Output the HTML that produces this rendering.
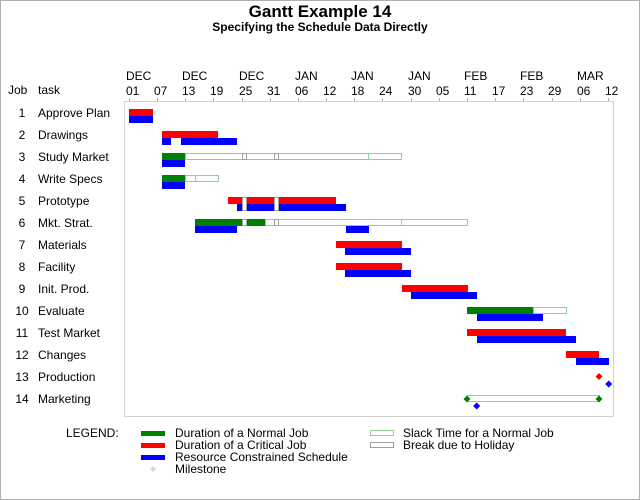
<!DOCTYPE html>
<html><head><style>body{margin:0;background:#fff}svg{display:block}text{font-family:"Liberation Sans",Arial,sans-serif;fill:#000}</style></head><body>
<svg width="640" height="500" xmlns="http://www.w3.org/2000/svg">
<rect x="0.5" y="0.5" width="639" height="499" fill="#fff" stroke="#b0b0b0"/>
<text x="320" y="17" font-size="17" font-weight="bold" text-anchor="middle">Gantt Example 14</text>
<text x="320" y="31" font-size="12" font-weight="bold" text-anchor="middle">Specifying the Schedule Data Directly</text>
<rect x="124.5" y="101.5" width="489" height="315" fill="none" stroke="#d0d0d0"/>
<g font-size="12">
<text x="8" y="94">Job</text><text x="38" y="94">task</text>
<g id="ticks"></g>
</g>
<g font-size="12" text-anchor="start">
<text x="126" y="80">DEC</text><text x="182" y="80">DEC</text><text x="239" y="80">DEC</text><text x="295" y="80">JAN</text><text x="351" y="80">JAN</text><text x="408" y="80">JAN</text><text x="464" y="80">FEB</text><text x="520" y="80">FEB</text><text x="577" y="80">MAR</text>
<text x="126" y="95">01</text><text x="154" y="95">07</text><text x="182" y="95">13</text><text x="210" y="95">19</text><text x="239" y="95">25</text><text x="267" y="95">31</text><text x="295" y="95">06</text><text x="323" y="95">12</text><text x="351" y="95">18</text><text x="379" y="95">24</text><text x="408" y="95">30</text><text x="436" y="95">05</text><text x="464" y="95">11</text><text x="492" y="95">17</text><text x="520" y="95">23</text><text x="548" y="95">29</text><text x="577" y="95">06</text><text x="605" y="95">12</text>
</g>
<g stroke="#b0b0b0"><path d="M129.5 98v3M157.5 98v3M185.5 98v3M213.5 98v3M242.5 98v3M270.5 98v3M298.5 98v3M326.5 98v3M354.5 98v3M382.5 98v3M411.5 98v3M439.5 98v3M467.5 98v3M495.5 98v3M523.5 98v3M552.5 98v3M580.5 98v3M608.5 98v3"/></g>
<g font-size="12">
<g text-anchor="middle">
<text x="22" y="117">1</text><text x="22" y="139">2</text><text x="22" y="161">3</text><text x="22" y="183">4</text><text x="22" y="205">5</text><text x="22" y="227">6</text><text x="22" y="249">7</text><text x="22" y="271">8</text><text x="22" y="293">9</text><text x="22" y="315">10</text><text x="22" y="337">11</text><text x="22" y="359">12</text><text x="22" y="381">13</text><text x="22" y="403">14</text>
</g>
<text x="38" y="117">Approve Plan</text><text x="38" y="139">Drawings</text><text x="38" y="161">Study Market</text><text x="38" y="183">Write Specs</text><text x="38" y="205">Prototype</text><text x="38" y="227">Mkt. Strat.</text><text x="38" y="249">Materials</text><text x="38" y="271">Facility</text><text x="38" y="293">Init. Prod.</text><text x="38" y="315">Evaluate</text><text x="38" y="337">Test Market</text><text x="38" y="359">Changes</text><text x="38" y="381">Production</text><text x="38" y="403">Marketing</text>
</g>
<!-- slack outlines -->
<g fill="none" stroke="#90d090">
<rect x="185.5" y="153.5" width="216" height="6"/><path d="M368.5 153v7"/>
<rect x="185.5" y="175.5" width="33" height="6"/><path d="M195.5 175v7"/>
<rect x="265.5" y="219.5" width="202" height="6"/><path d="M401.5 219v7"/>
<rect x="533.5" y="307.5" width="33" height="6"/>
<rect x="467.5" y="395.5" width="132" height="6"/>
</g>
<!-- bars -->
<g fill="#ff0000">
<rect x="129" y="109" width="24" height="7"/>
<rect x="162" y="131" width="56" height="7"/>
<rect x="228" y="197" width="14" height="7"/><rect x="247" y="197" width="28" height="7"/><rect x="279" y="197" width="57" height="7"/>
<rect x="336" y="241" width="66" height="7"/>
<rect x="336" y="263" width="66" height="7"/>
<rect x="402" y="285" width="66" height="7"/>
<rect x="467" y="329" width="99" height="7"/>
<rect x="566" y="351" width="33" height="7"/>
</g>
<g fill="#0000ff">
<rect x="129" y="116" width="24" height="7"/>
<rect x="162" y="138" width="9" height="7"/><rect x="181" y="138" width="56" height="7"/>
<rect x="162" y="160" width="23" height="7"/>
<rect x="162" y="182" width="23" height="7"/>
<rect x="237" y="204" width="5" height="7"/><rect x="247" y="204" width="28" height="7"/><rect x="279" y="204" width="67" height="7"/>
<rect x="195" y="226" width="42" height="7"/><rect x="346" y="226" width="23" height="7"/>
<rect x="345" y="248" width="66" height="7"/>
<rect x="345" y="270" width="66" height="7"/>
<rect x="411" y="292" width="66" height="7"/>
<rect x="477" y="314" width="66" height="7"/>
<rect x="477" y="336" width="99" height="7"/>
<rect x="576" y="358" width="33" height="7"/>
</g>
<g fill="#008000">
<rect x="162" y="153" width="23" height="7"/>
<rect x="162" y="175" width="23" height="7"/>
<rect x="195" y="219" width="47" height="7"/><rect x="247" y="219" width="18" height="7"/>
<rect x="467" y="307" width="66" height="7"/>
</g>
<!-- holiday breaks -->
<g fill="#fff" stroke="#a0a0a0">
<rect x="242.5" y="153.5" width="4" height="6"/><rect x="274.5" y="153.5" width="4" height="6"/>
<rect x="242.5" y="197.5" width="4" height="13"/><rect x="274.5" y="197.5" width="4" height="13"/>
<rect x="242.5" y="219.5" width="4" height="6"/><rect x="274.5" y="219.5" width="4" height="6"/>
</g>
<!-- milestones -->
<path d="M599 373l3.5 3.5-3.5 3.5-3.5-3.5z" fill="#ff0000"/>
<path d="M608.7 380.5l3.5 3.5-3.5 3.5-3.5-3.5z" fill="#0000ff"/>
<path d="M467 395.5l3.5 3.5-3.5 3.5-3.5-3.5z" fill="#008000"/>
<path d="M599 395.5l3.5 3.5-3.5 3.5-3.5-3.5z" fill="#008000"/>
<path d="M476.7 402.5l3.5 3.5-3.5 3.5-3.5-3.5z" fill="#0000ff"/>
<!-- legend -->
<g font-size="12">
<text x="66" y="437">LEGEND:</text>
<rect x="141" y="431" width="24" height="5" fill="#008000"/>
<rect x="141" y="443" width="24" height="5" fill="#ff0000"/>
<rect x="141" y="455" width="24" height="5" fill="#0000ff"/>
<path d="M153 466l3 3-3 3-3-3z" fill="#d0dce6"/>
<text x="175" y="437">Duration of a Normal Job</text>
<text x="175" y="449">Duration of a Critical Job</text>
<text x="175" y="461">Resource Constrained Schedule</text>
<text x="175" y="473">Milestone</text>
<rect x="370.5" y="430.5" width="23" height="5" fill="none" stroke="#90d090"/>
<rect x="370.5" y="442.5" width="23" height="5" fill="none" stroke="#a0a0a0"/>
<text x="403" y="437">Slack Time for a Normal Job</text>
<text x="403" y="449">Break due to Holiday</text>
</g>
</svg>
</body></html>
